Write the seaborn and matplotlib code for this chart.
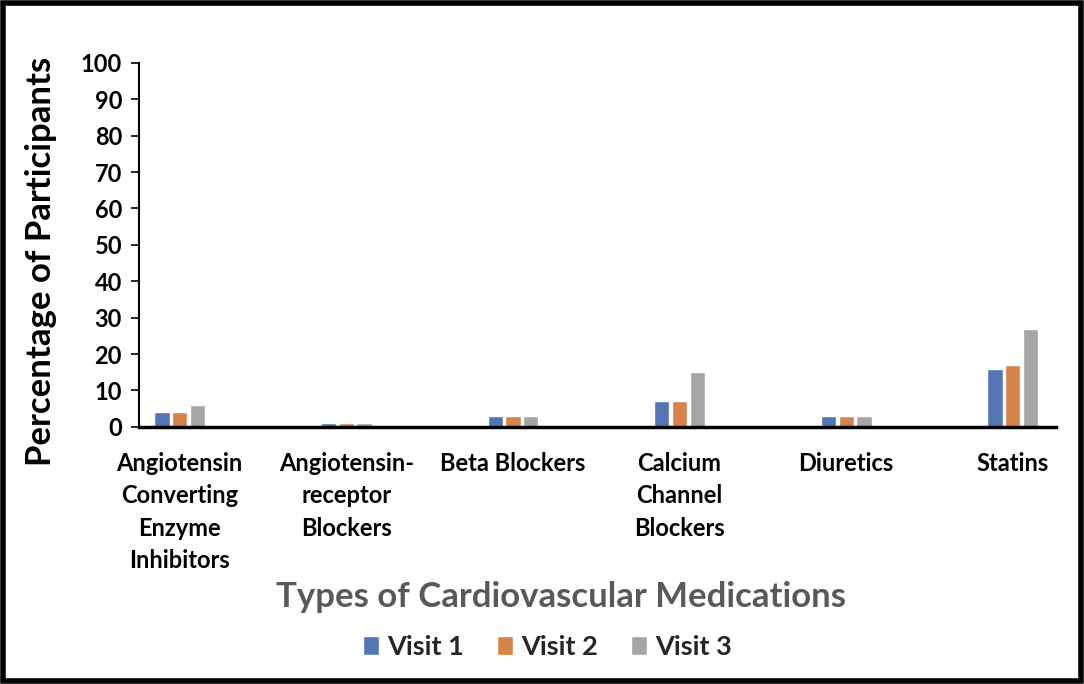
"""Cardiovascular medication use across visits."""

import pandas as pd
import matplotlib.pyplot as plt
import seaborn as sns
from matplotlib.patches import Rectangle

categories = [
    "Angiotensin\nConverting\nEnzyme\nInhibitors",
    "Angiotensin-\nreceptor\nBlockers",
    "Beta Blockers",
    "Calcium\nChannel\nBlockers",
    "Diuretics",
    "Statins",
]
visit_1 = [4, 1, 3, 7, 3, 16]
visit_2 = [4, 1, 3, 7, 3, 17]
visit_3 = [6, 1, 3, 15, 3, 27]
visits = ["Visit 1", "Visit 2", "Visit 3"]
colors = ["#4472C4", "#ED7D31", "#A5A5A5"]

df = pd.DataFrame({
    "category": categories * 3,
    "visit": [v for v in visits for _ in categories],
    "pct": visit_1 + visit_2 + visit_3,
})

sns.set_style("white")
plt.rcParams["font.family"] = ["Lato", "DejaVu Sans"]

fig = plt.figure(figsize=(10.84, 6.84), dpi=100)
ax = fig.add_axes([0.128, 0.376, 0.846, 0.532])

sns.barplot(data=df, x="category", y="pct", hue="visit", palette=colors,
            width=0.32, gap=0.14, ax=ax, legend=True)

ax.set_ylim(0, 100)
ax.set_yticks(range(0, 101, 10))
ax.set_xlim(-0.246, 5.258)
ax.tick_params(axis="y", which="both", left=True, length=6, width=1.2,
               labelsize=17, pad=6, color="black")
ax.tick_params(axis="x", length=0, labelsize=17, pad=18)
for lab in ax.get_xticklabels() + ax.get_yticklabels():
    lab.set_fontweight("bold")
    lab.set_color("black")
for lab in ax.get_xticklabels():
    lab.set_linespacing(1.5)
    lab.set_verticalalignment("top")

for side in ["top", "right"]:
    ax.spines[side].set_visible(False)
ax.spines["left"].set_linewidth(1.5)
ax.spines["left"].set_color("black")
ax.spines["bottom"].set_linewidth(2.5)
ax.spines["bottom"].set_color("black")

ax.set_ylabel("Percentage of Participants", fontsize=25, fontweight="bold",
              color="black")
ax.yaxis.set_label_coords(-0.089, 0.456)
ax.set_xlabel("Types of Cardiovascular Medications", fontsize=25,
              fontweight="bold", color="#595959")
ax.xaxis.set_label_coords(0.46, -0.424)

handles, labels = ax.get_legend_handles_labels()
ax.legend_.remove()
fig.legend(handles, labels, loc="center", bbox_to_anchor=(0.505, 0.054),
           ncol=3, frameon=False, handlelength=0.6,
           handleheight=0.7, columnspacing=1.2, handletextpad=0.3,
           prop={"weight": "bold", "size": 19.5})

fig.patches.append(Rectangle((0.003, 0.004), 0.994, 0.992,
                             transform=fig.transFigure, fill=False,
                             edgecolor="black", linewidth=4))

fig.savefig("out.png", dpi=100)
